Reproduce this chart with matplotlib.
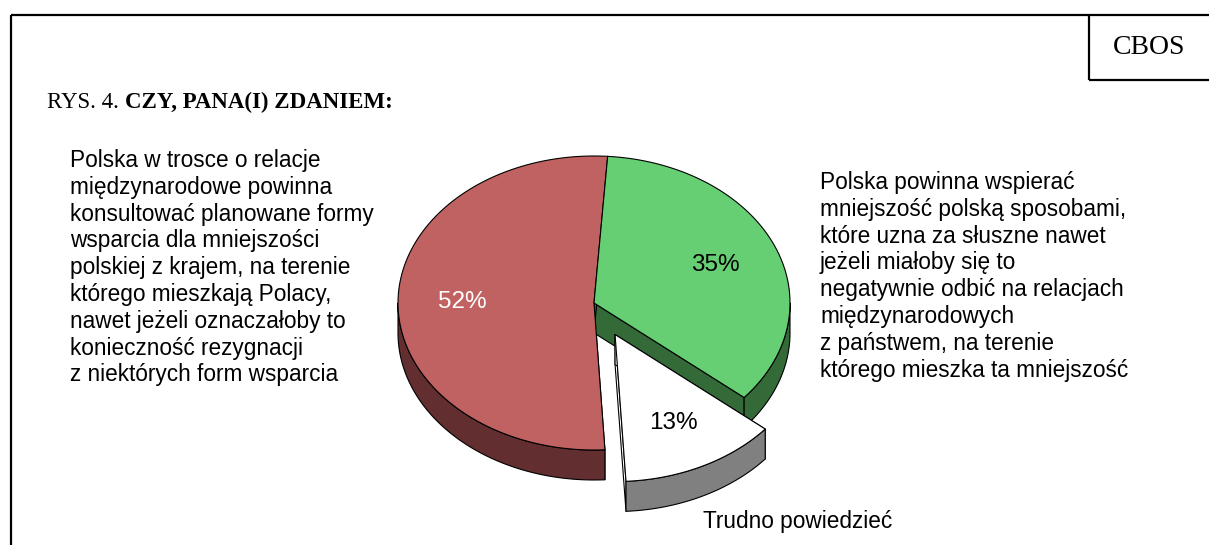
import numpy as np
import matplotlib.pyplot as plt
from matplotlib.patches import Polygon

# --- dane ---
values = [52, 13, 35]              # kolejnosc przeciwnie do wskazowek zegara od gory
pct_labels = ['52%', '13%', '35%']
label_colors = ['white', 'black', 'black']
top_colors = ['#c06261', '#ffffff', '#67cf73']
side_colors = ['#622e2f', '#808080', '#336a38']
radial_colors = ['#622e2f', '#ffffff', '#336a38']
explode = [0, 0.24, 0]

left_lines = ['Polska w trosce o relacje',
              'międzynarodowe powinna',
              'konsultować planowane formy',
              'wsparcia dla mniejszości',
              'polskiej z krajem, na terenie',
              'którego mieszkają Polacy,',
              'nawet jeżeli oznaczałoby to',
              'konieczność rezygnacji',
              'z niektórych form wsparcia']
right_lines = ['Polska powinna wspierać',
               'mniejszość polską sposobami,',
               'które uzna za słuszne nawet',
               'jeżeli miałoby się to',
               'negatywnie odbić na relacjach',
               'międzynarodowych',
               'z państwem, na terenie',
               'którego mieszka ta mniejszość']
other_label = 'Trudno powiedzieć'

W, H = 1209, 545
fig = plt.figure(figsize=(W / 100, H / 100), dpi=100)

# tlo w pikselach: ramka i teksty
bg = fig.add_axes((0, 0, 1, 1))
bg.set_xlim(0, W)
bg.set_ylim(H, 0)
bg.axis('off')
lw = 1.6
bg.plot([11, W], [15, 15], color='black', lw=lw, solid_capstyle='butt')
bg.plot([11, 11], [15, H], color='black', lw=lw, solid_capstyle='butt')
bg.plot([1089, 1089], [15, 80], color='black', lw=lw, solid_capstyle='butt')
bg.plot([1089, W], [80, 80], color='black', lw=lw, solid_capstyle='butt')
bg.text(1149, 48, 'CBOS', family='Liberation Serif', fontsize=20,
        ha='center', va='center')

t1 = bg.text(47, 108, 'RYS. 4. ', family='Liberation Serif', fontsize=16.5,
             va='baseline')
fig.canvas.draw()
bb = t1.get_window_extent()
bg.text(bb.x1, 108, 'CZY, PANA(I) ZDANIEM:', family='Liberation Serif',
        fontsize=16.5, fontweight='bold', va='baseline')

sans = 'Liberation Sans'
for i, s in enumerate(left_lines):
    bg.text(70, 167 + i * 26.8, s, family=sans, fontsize=16.3, va='baseline')
for i, s in enumerate(right_lines):
    bg.text(820, 189 + i * 26.8, s, family=sans, fontsize=16.3, va='baseline')
bg.text(703, 528, other_label, family=sans, fontsize=16.3, va='baseline')

# --- wykres kolowy 3D ---
cx, cy, R = 594, 303, 196          # piksele
ax = fig.add_axes((388 / W, (H - 530) / H, 412 / W, 380 / H))
ax.set_xlim(-(cx - 388) / R, (800 - cx) / R)
ax.set_ylim(-(530 - cy) / R, (cy - 150) / R)
ax.axis('off')

k = 0.75        # splaszczenie
h = 0.153       # grubosc
start = 86.0

edges = start + np.concatenate([[0], np.cumsum(values)]) * 3.6


def rim(t, ox, oy, dz=0.0):
    tr = np.radians(t)
    return np.column_stack([ox + np.cos(tr), oy + k * np.sin(tr) - dz])


def draw_slice(i, z):
    a0, a1 = edges[i], edges[i + 1]
    mid = np.radians((a0 + a1) / 2)
    ox, oy = explode[i] * np.cos(mid), explode[i] * k * np.sin(mid)
    ec = dict(edgecolor='black', linewidth=0.8, joinstyle='round')
    # sciany promieniowe
    for a in (a0, a1):
        p = rim(np.array([a]), ox, oy)[0]
        quad = [(ox, oy), p, (p[0], p[1] - h), (ox, oy - h)]
        ax.add_patch(Polygon(quad, facecolor=radial_colors[i], zorder=z, **ec))
    # sciana zewnetrzna (przednia czesc)
    for lo, hi in ((180, 360), (540, 720)):
        s0, s1 = max(a0, lo), min(a1, hi)
        if s1 > s0:
            t = np.linspace(s0, s1, 120)
            top = rim(t, ox, oy)
            bot = rim(t[::-1], ox, oy, h)
            ax.add_patch(Polygon(np.vstack([top, bot]), facecolor=side_colors[i],
                                 zorder=z + 1, **ec))
    # gora
    t = np.linspace(a0, a1, 200)
    face = np.vstack([[ox, oy], rim(t, ox, oy)])
    ax.add_patch(Polygon(face, facecolor=top_colors[i], zorder=z + 2, **ec))
    lx = ox + 0.67 * np.cos(mid)
    ly = oy + 0.67 * k * np.sin(mid)
    ax.text(lx, ly, pct_labels[i], color=label_colors[i], family=sans,
            fontsize=17.5, ha='center', va='center', zorder=z + 3)


draw_slice(0, 1)
draw_slice(2, 1)
draw_slice(1, 10)

fig.savefig('out.png', dpi=100)
